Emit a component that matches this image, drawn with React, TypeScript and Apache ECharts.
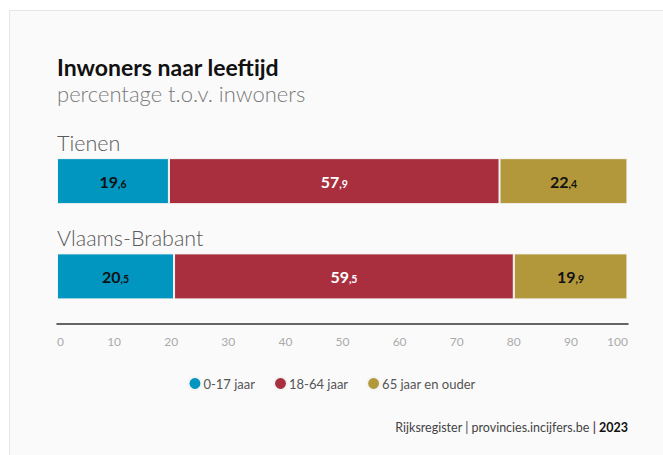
import React, { useEffect, useRef } from "react";
import * as echarts from "echarts";

const regions = ["Tienen", "Vlaams-Brabant"];
const seriesNames = ["0-17 jaar", "18-64 jaar", "65 jaar en ouder"];
const ageYoung = [19.6, 20.5];
const ageMid = [57.9, 59.5];
const ageOld = [22.4, 19.9];
const xTicks = [0, 10, 20, 30, 40, 50, 60, 70, 80, 90, 100];
const colors = ["#0096c0", "#a92f3f", "#b3983b"];
const labelColors = ["#111111", "#ffffff", "#111111"];

const FONT = "Lato, 'Noto Sans', sans-serif";

function fmt(v: number) {
  const s = v.toFixed(1).split(".");
  return `{a|${s[0]}}{b|,${s[1]}}`;
}

export default function App() {
  const ref = useRef<HTMLDivElement>(null);
  useEffect(() => {
    document.body.style.margin = "0";
    const chart = echarts.init(ref.current!, null, { renderer: "svg" });
    const data = [ageYoung, ageMid, ageOld];
    chart.setOption({
      animation: false,
      backgroundColor: "#ffffff",
      textStyle: { fontFamily: FONT },
      graphic: [
        {
          type: "rect",
          z: -10,
          shape: { x: 9.5, y: 10.5, width: 720, height: 520 },
          style: { fill: "#fafafa", stroke: "#e6e6e6", lineWidth: 1 },
        },
        {
          type: "text",
          left: 57,
          top: 54,
          style: {
            text: "Inwoners naar leeftijd",
            fontFamily: FONT,
            fontWeight: "bold",
            fontSize: 23,
            lineHeight: 26,
            fill: "#111111",
          },
        },
        {
          type: "text",
          left: 57,
          top: 81,
          style: {
            text: "percentage t.o.v. inwoners",
            fontFamily: FONT,
            fontWeight: 300,
            fontSize: 22,
            lineHeight: 24,
            fill: "#7a7a7a",
          },
        },
        {
          type: "text",
          right: 35,
          top: 421,
          style: {
            text: "{n|Rijksregister | provincies.incijfers.be }{s||}{y| 2023}",
            fontFamily: FONT,
            rich: {
              n: { fontSize: 12.5, fill: "#444444", fontFamily: FONT },
              s: { fontSize: 12.5, fill: "#6b3a6b", fontWeight: "bold", fontFamily: FONT },
              y: { fontSize: 12.5, fill: "#111111", fontWeight: "bold", fontFamily: FONT },
            },
          },
        },
      ],
      legend: {
        data: seriesNames,
        top: 371,
        left: "center",
        icon: "circle",
        itemWidth: 13,
        itemHeight: 13,
        itemGap: 18,
        textStyle: { fontSize: 13, color: "#555555", fontFamily: FONT, padding: [0, 0, 0, -3] },
      },
      grid: { left: 57, right: 35, top: 133.5, bottom: 131, containLabel: false },
      xAxis: {
        type: "value",
        min: xTicks[0],
        max: xTicks[xTicks.length - 1],
        interval: 10,
        axisLine: { show: true, lineStyle: { color: "#333333", width: 1.5 } },
        axisTick: { show: false },
        splitLine: { show: false },
        axisLabel: {
          color: "#aaaaaa",
          fontSize: 12,
          margin: 11,
          fontFamily: FONT,
          alignMinLabel: "left",
          alignMaxLabel: "right",
        },
      },
      yAxis: {
        type: "category",
        inverse: true,
        data: regions,
        z: 10,
        axisLine: { show: false },
        axisTick: { show: false },
        axisLabel: {
          inside: true,
          margin: 0,
          fontFamily: FONT,
          verticalAlign: "middle",
          formatter: (v: string) => `{t|${v}}`,
          rich: {
            t: { fontSize: 21.5, fontWeight: 300, color: "#5a5a5a", fontFamily: FONT, padding: [0, 0, 76, 0] },
          },
        },
      },
      series: seriesNames.map((name, i) => ({
        name,
        type: "bar",
        stack: "total",
        barWidth: 46,
        data: data[i],
        itemStyle: { color: colors[i], borderColor: "#f4f4f4", borderWidth: 1 },
        label: {
          show: true,
          position: "inside",
          formatter: (p: any) => fmt(p.value),
          rich: {
            a: { fontSize: 16, fontWeight: "bold", color: labelColors[i], fontFamily: FONT, verticalAlign: "bottom", lineHeight: 17 },
            b: { fontSize: 10.5, fontWeight: "bold", color: labelColors[i], fontFamily: FONT, verticalAlign: "bottom", lineHeight: 14 },
          },
        },
      })),
    });
    return () => chart.dispose();
  }, []);
  return <div ref={ref} style={{ position: "absolute", left: 0, top: 0, width: 663, height: 455 }} />;
}
